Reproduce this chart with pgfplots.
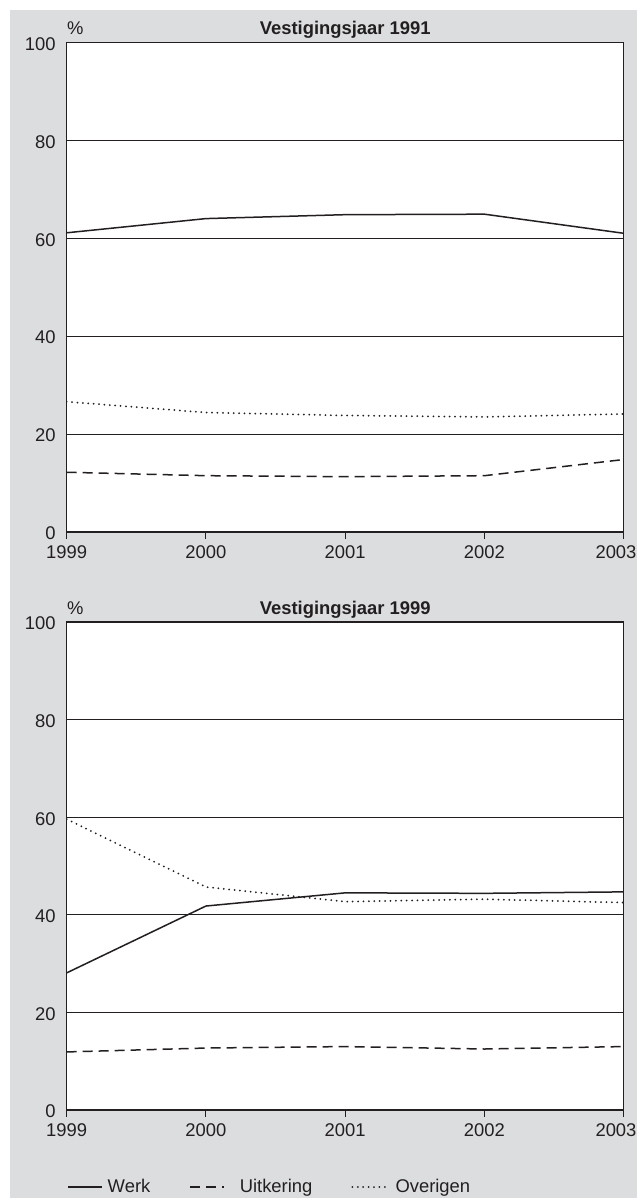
\documentclass[border=0pt]{standalone}
\usepackage{pgfplots}
\pgfplotsset{compat=1.18}
\usepackage{fontspec}
\setmainfont{Liberation Sans}
\definecolor{bg}{RGB}{220,221,223}
\definecolor{ink}{RGB}{35,31,32}
\pgfplotsset{
  panel/.style={
    scale only axis, width=278.5pt,
    xmin=1999, xmax=2003, ymin=0, ymax=100,
    xtick={1999,2000,2001,2002,2003},
    xticklabels={1999,2000,2001,2002,{2003\hspace*{7.7pt}}},
    ytick={0,20,40,60,80,100},
    xtick pos=bottom, ytick pos=left,
    /pgf/number format/assume math mode=true,
    xticklabel style={font=\fontsize{9.2}{10}\selectfont, text=ink},
    yticklabel style={font=\fontsize{9.2}{10}\selectfont, text=ink, xshift=1.5pt, yshift=-0.75pt},
    tick align=outside, major tick length=3.5pt,
    xtick style={line width=0.5pt, ink},
    ytick style={draw=none},
    ymajorgrids, grid style={line width=0.5pt, ink, solid},
    axis line style={line width=0.75pt, ink},
    axis background/.style={fill=white},
    every axis plot/.append style={line width=0.75pt, ink},
  },
  werk/.style={solid},
  uitk/.style={dash pattern=on 5pt off 3pt},
  over/.style={line cap=round, dash pattern=on 0pt off 2.7pt, line width=1pt},
}
\begin{document}
\begin{tikzpicture}
\path[use as bounding box] (0,0) rectangle (318.5pt,-599pt);
\fill[bg] (5pt,-5pt) rectangle (318.5pt,-599pt);
% Panel 1
\begin{axis}[panel, name=p1, height=244.85pt, at={(33.35pt,-266pt)}, anchor=south west]
\addplot[werk] coordinates {(1999,61.1) (2000,64.0) (2001,64.8) (2002,64.9) (2003,61.0)};
\addplot[uitk] coordinates {(1999,12.2) (2000,11.5) (2001,11.3) (2002,11.5) (2003,14.8)};
\addplot[over] coordinates {(1999,26.6) (2000,24.4) (2001,23.8) (2002,23.5) (2003,24.1)};
\end{axis}
\node[anchor=base, font=\bfseries\fontsize{9.2}{10}\selectfont, text=ink, yshift=3.8pt] at (p1.north) {Vestigingsjaar 1991};
\node[anchor=base west, inner sep=0pt, font=\fontsize{9.2}{10}\selectfont, text=ink, yshift=4pt] at (p1.north west) {\%};
% Panel 2
\begin{axis}[panel, name=p2, height=244pt, at={(33.35pt,-555pt)}, anchor=south west,
  legend columns=3,
  legend style={at={(0,0)}, anchor=west, yshift=-38.5pt, draw=none, fill=none, inner sep=0pt,
    nodes={inner sep=0pt, text=ink, font=\fontsize{9.2}{10}\selectfont},
    column sep=0pt, /tikz/every even column/.append style={column sep=19.5pt}}]
\addplot[werk] coordinates {(1999,28.1) (2000,41.8) (2001,44.5) (2002,44.4) (2003,44.7)};
\addplot[uitk] coordinates {(1999,11.9) (2000,12.7) (2001,13.0) (2002,12.5) (2003,13.0)};
\addplot[over] coordinates {(1999,59.6) (2000,45.7) (2001,42.7) (2002,43.2) (2003,42.5)};
\addlegendimage{legend image code/.code={\draw[ink, line width=0.7pt, solid] (0pt,0pt) -- (19.65pt,0pt);}}
\addlegendentry{\hspace*{2.5pt}Werk}
\addlegendimage{legend image code/.code={\draw[ink, line width=0.7pt, solid] (0pt,0pt) -- (3.6pt,0pt) (5.5pt,0pt) -- (9.1pt,0pt) (11pt,0pt) -- (14.6pt,0pt);}}
\addlegendentry{\hspace*{7.4pt}Uitkering}
\addlegendimage{legend image code/.code={\draw[ink, line width=0.8pt, line cap=round, dash pattern=on 0pt off 3.1pt] (0.4pt,0pt) -- (19pt,0pt);}}
\addlegendentry{\hspace*{4pt}Overigen}
\end{axis}
\node[anchor=base, font=\bfseries\fontsize{9.2}{10}\selectfont, text=ink, yshift=3.8pt] at (p2.north) {Vestigingsjaar 1999};
\node[anchor=base west, inner sep=0pt, font=\fontsize{9.2}{10}\selectfont, text=ink, yshift=4pt] at (p2.north west) {\%};
\end{tikzpicture}
\end{document}
